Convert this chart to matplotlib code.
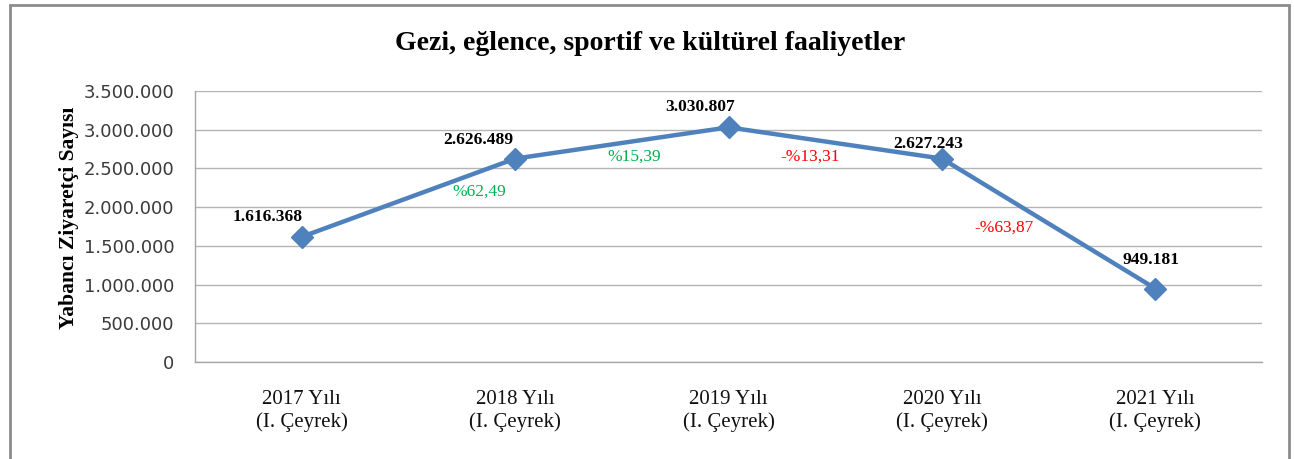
import numpy as np
import matplotlib
matplotlib.use("Agg")
import matplotlib.pyplot as plt
from matplotlib.patches import Rectangle

years = ["2017 Yılı", "2018 Yılı", "2019 Yılı", "2020 Yılı", "2021 Yılı"]
period = "(I. Çeyrek)"
visitors = [1616368, 2626489, 3030807, 2627243, 949181]
changes = [62.49, 15.39, -13.31, -63.87]

# where the change labels sit (category units, visitors)
pct_pos_x = [0.831, 1.557, 2.382, 3.291]
pct_pos_y = [2196000, 2648000, 2648000, 1731000]
# value label offsets (pixels from the marker)
lbl_dx = [-34, -37, -28, -14, -4]
lbl_dy = [20, 19, 20, 15, 29]

SERIF = "Liberation Serif"
LINE = "#4F81BD"
GREEN = "#00B050"
RED = "#FF0000"


def tr_num(v):
	return "{:,}".format(v).replace(",", ".")


def tr_pct(p):
	s = "{:.2f}".format(abs(p)).replace(".", ",")
	return ("-%" if p < 0 else "%") + s


W, H = 1294, 459
fig = plt.figure(figsize=(W / 100, H / 100), dpi=100)
ax = fig.add_axes([195 / W, 1 - 362 / H, (1262 - 195) / W, (362 - 91) / H])

x = np.arange(len(visitors))
ax.plot(x, visitors, color=LINE, lw=3.2, marker="D", ms=11, mfc=LINE, mec=LINE, zorder=5)

ax.set_xlim(-0.5, len(visitors) - 0.5)
ax.set_ylim(0, 3500000)
yt = np.arange(0, 3500001, 500000)
ax.set_yticks(yt)
ax.set_yticklabels([tr_num(v) for v in yt], fontsize=13, color="#3A3A3A", family="DejaVu Sans")
ax.set_xticks(x)
ax.set_xticklabels([y + "\n" + period for y in years], family=SERIF, fontsize=15,
	linespacing=1.25, color="#111111")
ax.tick_params(axis="y", length=0, pad=15)
ax.tick_params(axis="x", length=0, pad=20)

ax.grid(axis="y", color="#B4B4B4", lw=1)
ax.set_axisbelow(True)
for s in ["top", "right"]:
	ax.spines[s].set_visible(False)
for s in ["left", "bottom"]:
	ax.spines[s].set_color("#A6A6A6")
	ax.spines[s].set_linewidth(1)

ax.set_ylabel("Yabancı Ziyaretçi Sayısı", family=SERIF, fontsize=15.5, fontweight="bold")
ax.yaxis.set_label_coords(-(195 - 79) / (1262 - 195), 0.531)

for i, v in enumerate(visitors):
	ax.annotate(tr_num(v), (x[i], v), xytext=(lbl_dx[i], lbl_dy[i]), textcoords="offset pixels",
		ha="center", va="center", family=SERIF, fontsize=12.5, fontweight="bold", color="black")

for i, p in enumerate(changes):
	ax.text(pct_pos_x[i], pct_pos_y[i], tr_pct(p), ha="center", va="center",
		family=SERIF, fontsize=12.5, color=GREEN if p >= 0 else RED)

fig.text(650 / W, 1 - 44 / H, "Gezi, eğlence, sportif ve kültürel faaliyetler",
	ha="center", va="center", family=SERIF, fontsize=20, fontweight="bold")

fig.patches.append(Rectangle((10 / W, -0.05), (1289 - 10) / W, 1.05 - 5 / H,
	transform=fig.transFigure, fill=False, ec="#8C8C8C", lw=2))

fig.savefig("out.png", dpi=100)
